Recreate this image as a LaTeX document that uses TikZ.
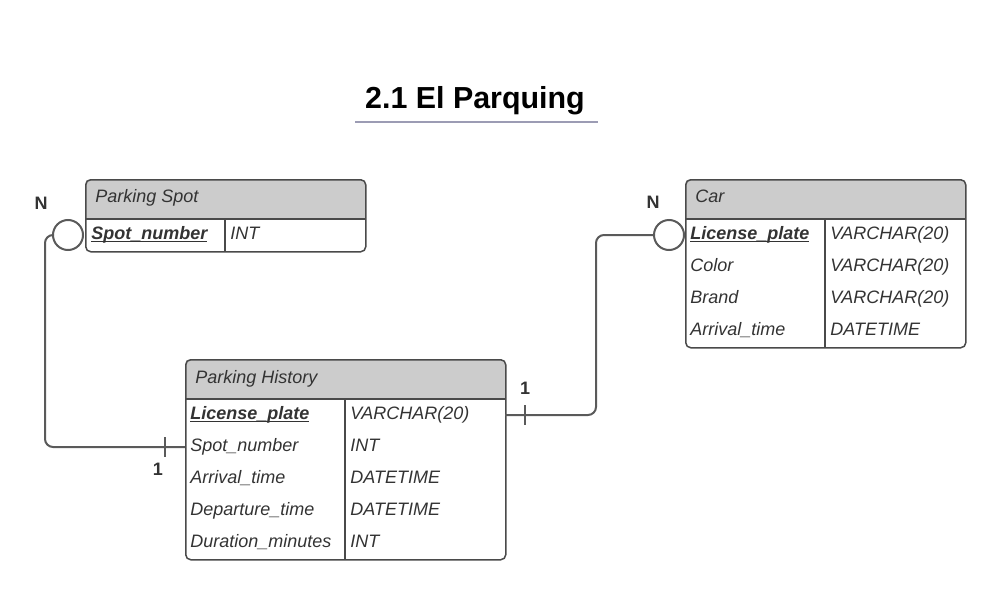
\documentclass[tikz,border=0pt]{standalone}
\usepackage{fontspec}
\setmainfont{Liberation Sans}
\usetikzlibrary{calc}
\definecolor{linegray}{HTML}{4A4A4A}
\definecolor{conngray}{HTML}{5A5A5A}
\definecolor{hdrgray}{HTML}{CCCCCC}
\definecolor{txtgray}{HTML}{333333}
\definecolor{ulblue}{HTML}{9C9CB4}
\newcommand\ulkey[1]{\setbox0\hbox{#1}\rlap{\rule[-1.7pt]{\wd0}{0.8pt}}\box0}
\begin{document}
\begin{tikzpicture}[x=0.5pt,y=-0.5pt]
  \tikzset{tbl/.style = {draw=linegray, line width=0.75pt, rounded corners=2.5pt, inner sep=0pt, anchor=north west}}
  \tikzset{sep/.style = {draw=linegray, line width=0.75pt}}
  \tikzset{hdrtxt/.style = {anchor=base west, inner sep=0pt, font=\fontsize{9}{11}\selectfont\itshape, text=txtgray}}
  \tikzset{fld/.style = {anchor=base west, inner sep=0pt, font=\fontsize{9}{11}\selectfont\itshape, text=txtgray}}
  \tikzset{keyfld/.style = {fld, font=\fontsize{9}{11}\selectfont\bfseries\itshape}}
  \tikzset{conn/.style = {draw=conngray, line width=1pt, rounded corners=4pt}}
  \tikzset{card/.style = {font=\fontsize{9}{11}\selectfont\bfseries, text=txtgray}}
  \tikzset{ncirc/.style = {circle, draw=conngray, line width=1pt, fill=white, minimum size=15pt, inner sep=0pt}}
  \useasboundingbox (0,0) rectangle (1005,599);

  % title
  \node[font=\fontsize{15.2}{18}\selectfont\bfseries, anchor=base] (title) at (475,108) {2.1 El Parquing};
  \draw[ulblue, line width=1pt] (355,122) -- (598,122);

  % Parking Spot
  \begin{scope}
    \clip[rounded corners=2.5pt] (85,179) rectangle (365,251);
    \fill[hdrgray] (85,179) rectangle (365,219);
  \end{scope}
  \node[tbl, minimum width=140pt, minimum height=36pt] (spot) at (85,179) {};
  \draw[sep] (85,219) -- (365,219) (225,219) -- (225,251);
  \node[hdrtxt] (spot-h) at (95,202) {Parking Spot};
  \node[keyfld] (spot-f1) at (91,239) {\ulkey{Spot\_number}};
  \node[fld] (spot-t1) at (230,239) {INT};

  % Car
  \begin{scope}
    \clip[rounded corners=2.5pt] (685,179) rectangle (965,347);
    \fill[hdrgray] (685,179) rectangle (965,219);
  \end{scope}
  \node[tbl, minimum width=140pt, minimum height=84pt] (car) at (685,179) {};
  \draw[sep] (685,219) -- (965,219) (825,219) -- (825,347);
  \node[hdrtxt] (car-h) at (695,202) {Car};
  \node[keyfld] (car-f1) at (690,239) {\ulkey{License\_plate}};
  \node[fld] (car-t1) at (830,239) {VARCHAR(20)};
  \foreach \f/\t [count=\i from 2] in {Color/VARCHAR(20), Brand/VARCHAR(20), Arrival\_time/DATETIME} {
    \node[fld] (car-f\i) at (690,207+32*\i) {\f};
    \node[fld] (car-t\i) at (830,207+32*\i) {\t};
  }

  % Parking History
  \begin{scope}
    \clip[rounded corners=2.5pt] (185,359) rectangle (505,559);
    \fill[hdrgray] (185,359) rectangle (505,399);
  \end{scope}
  \node[tbl, minimum width=160pt, minimum height=100pt] (hist) at (185,359) {};
  \draw[sep] (185,399) -- (505,399) (345,399) -- (345,559);
  \node[hdrtxt] (hist-h) at (195,383) {Parking History};
  \node[keyfld] (hist-f1) at (190,419) {\ulkey{License\_plate}};
  \node[fld] (hist-t1) at (350,419) {VARCHAR(20)};
  \foreach \f/\t [count=\i from 2] in {Spot\_number/INT, Arrival\_time/DATETIME, Departure\_time/DATETIME, Duration\_minutes/INT} {
    \node[fld] (hist-f\i) at (190,387+32*\i) {\f};
    \node[fld] (hist-t\i) at (350,387+32*\i) {\t};
  }

  % relations
  \node[ncirc] (spot-n) at (68,235) {};
  \coordinate (hist-spot) at (185,447);
  \draw[conn] (spot-n.west) -- (45,235) |- (hist-spot);
  \draw[conn] ($(hist-spot)+(-20,-10)$) -- ++(0,20);
  \node[card] (spot-N) at (41,203) {N};
  \node[card] (spot-1) at (158,469) {1};

  \node[ncirc] (car-n) at (669,235) {};
  \coordinate (hist-car) at (505,415);
  \draw[conn] (car-n.west) -- (596,235) |- (hist-car);
  \draw[conn] ($(hist-car)+(20,-10)$) -- ++(0,20);
  \node[card] (car-N) at (653,202) {N};
  \node[card] (car-1) at (525,388) {1};
\end{tikzpicture}
\end{document}
